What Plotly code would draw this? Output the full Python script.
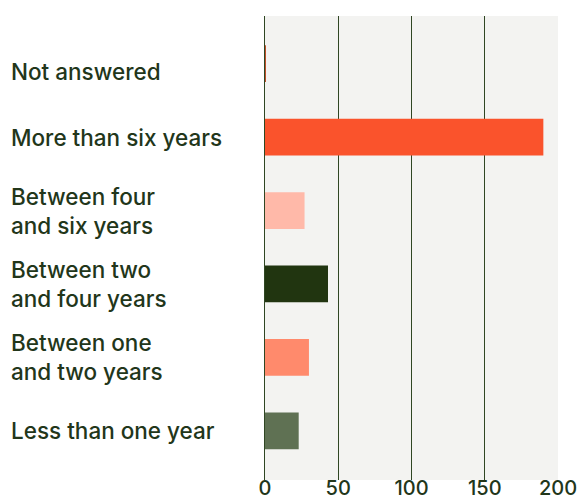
import plotly.graph_objects as go

categories = [
    "Less than one year",
    "Between one<br>and two years",
    "Between two<br>and four years",
    "Between four<br>and six years",
    "More than six years",
    "Not answered",
]
values = [23, 30, 43, 27, 190, 0.6]
colors = ["#5f7153", "#ff8a6c", "#213510", "#ffb9a9", "#fa532c", "#c0502a"]
x_ticks = [0, 50, 100, 150, 200]

TEXT = "#22361a"
FONT = "Inter"

fig = go.Figure(
    go.Bar(
        y=categories,
        x=values,
        orientation="h",
        marker=dict(color=colors, line=dict(width=0)),
        width=0.5,
        hoverinfo="skip",
    )
)

label_shift = {"Not answered": -8}
for cat in categories:
    fig.add_annotation(
        x=0,
        xref="paper",
        y=cat,
        yref="y",
        text=cat,
        showarrow=False,
        xanchor="left",
        yanchor="middle",
        align="left",
        xshift=-256,
        yshift=label_shift.get(cat, 0),
        font=dict(family=FONT, size=22.5, color=TEXT, weight=500),
    )

fig.update_layout(
    width=578,
    height=502,
    autosize=False,
    margin=dict(l=265, r=20, t=16, b=22, autoexpand=False),
    paper_bgcolor="white",
    plot_bgcolor="#f3f3f1",
    showlegend=False,
    bargap=0.5,
    xaxis=dict(
        range=[0, 200],
        tickvals=x_ticks,
        ticktext=[str(t) for t in x_ticks],
        showgrid=True,
        gridcolor="#2f4623",
        gridwidth=1,
        zeroline=False,
        showline=False,
        ticks="",
        automargin=False,
        ticklabeloverflow="allow",
        ticklabelstandoff=-6,
        tickfont=dict(family=FONT, size=20, color=TEXT, weight=500),
        fixedrange=True,
    ),
    yaxis=dict(
        categoryorder="array",
        categoryarray=categories,
        range=[-0.67, 5.65],
        showticklabels=False,
        showgrid=False,
        zeroline=False,
        showline=True,
        linecolor="#2f4623",
        linewidth=1,
        ticks="",
        automargin=False,
        fixedrange=True,
    ),
)

fig.write_html(
    "out.html",
    config={"displayModeBar": False, "responsive": False},
    post_script="document.body.style.margin='0';document.body.style.overflow='hidden';",
)
